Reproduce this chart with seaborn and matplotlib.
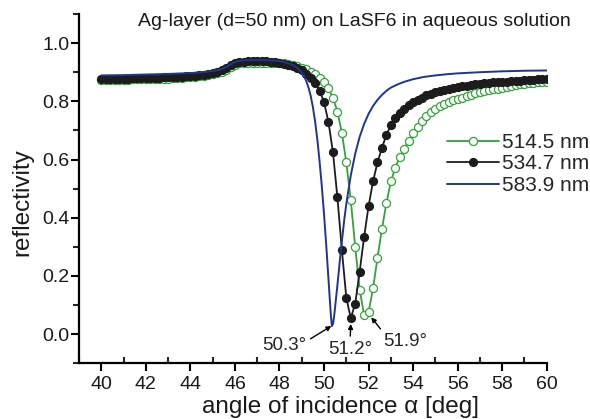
import numpy as np
import pandas as pd
import matplotlib
matplotlib.use("Agg")
import matplotlib.pyplot as plt
import seaborn as sns
from matplotlib.ticker import MultipleLocator, FormatStrFormatter

# ---------------- data ----------------
# angle grid of the marker series (0.2 deg sampling)
angle = np.round(np.arange(40.0, 60.0001, 0.2), 1)

r_5145 = [
    0.873, 0.873, 0.873, 0.873, 0.874, 0.874, 0.874, 0.875, 0.875, 0.875,
    0.876, 0.876, 0.877, 0.877, 0.878, 0.878, 0.879, 0.880, 0.881, 0.882,
    0.883, 0.884, 0.886, 0.888, 0.890, 0.893, 0.897, 0.902, 0.909, 0.918,
    0.926, 0.930, 0.932, 0.933, 0.933, 0.933, 0.933, 0.933, 0.933, 0.932,
    0.931, 0.930, 0.928, 0.925, 0.921, 0.916, 0.910, 0.902, 0.893, 0.881,
    0.866, 0.845, 0.812, 0.765, 0.692, 0.590, 0.460, 0.300, 0.152, 0.066,
    0.076, 0.157, 0.262, 0.362, 0.450, 0.525, 0.572, 0.609, 0.637, 0.665,
    0.690, 0.713, 0.733, 0.750, 0.764, 0.775, 0.783, 0.791, 0.797, 0.803,
    0.808, 0.813, 0.818, 0.823, 0.827, 0.831, 0.835, 0.838, 0.841, 0.844,
    0.847, 0.850, 0.853, 0.855, 0.858, 0.860, 0.862, 0.864, 0.866, 0.867,
    0.868,
]

r_5347 = [
    0.877, 0.877, 0.877, 0.877, 0.878, 0.878, 0.878, 0.879, 0.879, 0.879,
    0.880, 0.880, 0.881, 0.881, 0.882, 0.882, 0.883, 0.884, 0.885, 0.886,
    0.887, 0.888, 0.890, 0.892, 0.894, 0.897, 0.901, 0.906, 0.914, 0.924,
    0.931, 0.934, 0.936, 0.937, 0.937, 0.937, 0.937, 0.937, 0.936, 0.934,
    0.932, 0.929, 0.925, 0.920, 0.914, 0.906, 0.895, 0.880, 0.862, 0.837,
    0.797, 0.728, 0.625, 0.470, 0.290, 0.125, 0.055, 0.105, 0.215, 0.335,
    0.440, 0.525, 0.590, 0.640, 0.685, 0.718, 0.742, 0.760, 0.774, 0.786,
    0.796, 0.805, 0.813, 0.820, 0.826, 0.831, 0.836, 0.840, 0.843, 0.846,
    0.849, 0.852, 0.854, 0.857, 0.859, 0.861, 0.862, 0.864, 0.865, 0.866,
    0.867, 0.868, 0.869, 0.870, 0.871, 0.872, 0.873, 0.874, 0.875, 0.876,
    0.877,
]

angle_5839 = [
    40.0, 41.0, 42.0, 43.0, 44.0, 44.5, 45.0, 45.3, 45.6, 45.8,
    46.0, 46.2, 46.5, 47.0, 47.5, 47.8, 48.0, 48.2, 48.4, 48.6,
    48.8, 49.0, 49.1, 49.2, 49.3, 49.4, 49.5, 49.6, 49.7, 49.8,
    49.9, 50.0, 50.1, 50.2, 50.25, 50.3, 50.35, 50.4, 50.45, 50.5,
    50.6, 50.7, 50.8, 50.9, 51.0, 51.2, 51.4, 51.6, 51.8, 52.0,
    52.2, 52.4, 52.6, 52.8, 53.0, 53.3, 53.6, 54.0, 54.5, 55.0,
    55.5, 56.0, 57.0, 58.0, 59.0, 60.0,
]
r_5839 = [
    0.889, 0.890, 0.892, 0.894, 0.897, 0.900, 0.904, 0.908, 0.917, 0.927,
    0.935, 0.939, 0.941, 0.942, 0.941, 0.940, 0.938, 0.935, 0.931, 0.925,
    0.915, 0.899, 0.887, 0.870, 0.848, 0.819, 0.780, 0.730, 0.668, 0.593,
    0.508, 0.412, 0.304, 0.188, 0.130, 0.072, 0.028, 0.034, 0.060, 0.095,
    0.168, 0.245, 0.318, 0.388, 0.448, 0.545, 0.620, 0.678, 0.722, 0.757,
    0.784, 0.805, 0.822, 0.836, 0.847, 0.858, 0.867, 0.876, 0.884, 0.889,
    0.893, 0.896, 0.900, 0.903, 0.905, 0.906,
]

labels = ["514.5 nm", "534.7 nm", "583.9 nm"]
title_text = "Ag-layer (d=50 nm) on LaSF6 in aqueous solution"
min_labels = ["50.3°", "51.2°", "51.9°"]
min_angles = [50.35, 51.2, 51.9]

# ---------------- style ----------------
sns.set_theme(style="ticks")
plt.rcParams['font.family'] = ['Liberation Sans', 'DejaVu Sans']

GREEN = "#33a33a"
BLACK = "#1c1c1c"
BLUE = "#1f3590"

fig = plt.figure(figsize=(5.9, 4.19), dpi=100)
ax = fig.add_axes([0.134, 0.133, 0.7927, 0.8336])

sns.lineplot(x=angle, y=r_5145, ax=ax, color=GREEN, lw=1.3, marker='o',
             markersize=5.8, markerfacecolor='white', markeredgecolor=GREEN,
             markeredgewidth=0.9, label=labels[0])
sns.lineplot(x=angle, y=r_5347, ax=ax, color=BLACK, lw=1.3, marker='o',
             markersize=5.8, markerfacecolor=BLACK, markeredgecolor=BLACK,
             markeredgewidth=0.8, label=labels[1])
sns.lineplot(x=angle_5839, y=r_5839, ax=ax, color=BLUE, lw=1.4,
             label=labels[2])

ax.set_xlim(39, 60)
ax.set_ylim(-0.1, 1.1)

ax.xaxis.set_major_locator(MultipleLocator(2))
ax.xaxis.set_minor_locator(MultipleLocator(1))
ax.yaxis.set_major_locator(MultipleLocator(0.2))
ax.yaxis.set_minor_locator(MultipleLocator(0.1))
ax.yaxis.set_major_formatter(FormatStrFormatter('%.1f'))

for s in ['top', 'right']:
    ax.spines[s].set_visible(False)
for s in ['left', 'bottom']:
    ax.spines[s].set_linewidth(1.6)
    ax.spines[s].set_color('black')

ax.tick_params(axis='both', which='major', direction='out', length=6,
               width=1.5, labelsize=14, color='black', labelcolor='#1a1a1a')
ax.tick_params(axis='y', which='major', pad=1)
ax.tick_params(axis='x', which='major', pad=3)
ax.tick_params(axis='x', which='minor', direction='in', length=4, width=1.5)
ax.tick_params(axis='y', which='minor', direction='out', length=4, width=1.5)

ax.set_xlabel("angle of incidence α [deg]", fontsize=17.5, color='#1a1a1a')
ax.set_ylabel("reflectivity", fontsize=17.5, color='#1a1a1a')
ax.xaxis.set_label_coords(0.558, -0.093)
ax.yaxis.set_label_coords(-0.097, 0.46)

fig.text(0.601, 0.9475, title_text, ha='center', va='center', fontsize=14,
         color='#1a1a1a')

# minimum annotations
arrow_kw = dict(arrowstyle='-|>', color='black', lw=1.0, mutation_scale=7,
                shrinkA=1, shrinkB=0)
ax.annotate(min_labels[0], xy=(min_angles[0] - 0.02, 0.028), xytext=(48.2, -0.04),
            ha='center', va='center', fontsize=13.5,
            arrowprops=dict(relpos=(1.0, 0.75), **arrow_kw))
ax.annotate(min_labels[1], xy=(min_angles[1], 0.035), xytext=(51.17, -0.052),
            ha='center', va='center', fontsize=13.5,
            arrowprops=dict(relpos=(0.5, 1.0), **arrow_kw))
ax.annotate(min_labels[2], xy=(52.12, 0.058), xytext=(53.64, -0.026),
            ha='center', va='center', fontsize=13.5,
            arrowprops=dict(relpos=(0.05, 0.9), **arrow_kw))

handles, labs = ax.get_legend_handles_labels()
ax.legend(handles, labs, loc='center left', bbox_to_anchor=(0.757, 0.6086),
          bbox_transform=fig.transFigure, frameon=False, fontsize=15,
          handlelength=2.5, handletextpad=0.15, labelspacing=0.12,
          borderpad=0, borderaxespad=0)

fig.savefig("out.png", dpi=100)
